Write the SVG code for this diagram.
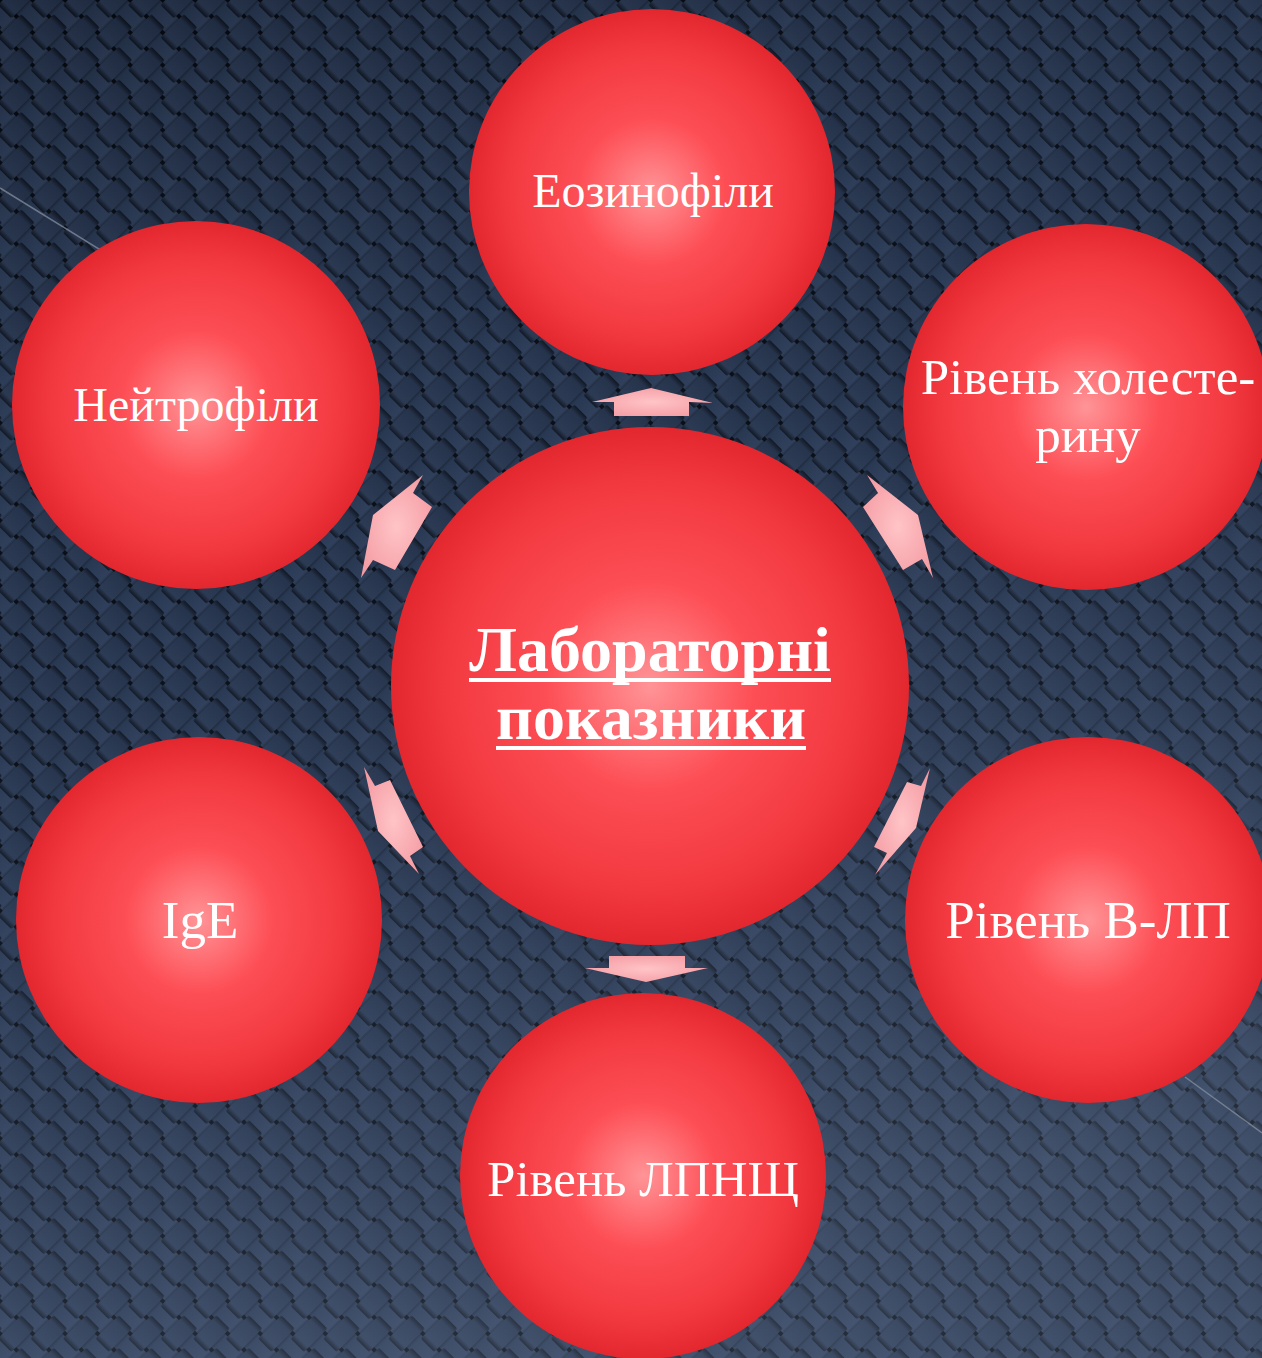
<svg xmlns="http://www.w3.org/2000/svg" width="1262" height="1358" viewBox="0 0 1262 1358">
<style>
.t{font-family:"Liberation Serif","Times New Roman",serif;fill:#ffffff;text-anchor:middle}
.tb{font-family:"Liberation Serif","Times New Roman",serif;fill:#ffffff;text-anchor:middle;font-size:64px;font-weight:bold}
.arr{fill:url(#ag)}
.ul{fill:#ffffff}
</style>
<defs>
<linearGradient id="sh" x1="0" y1="0" x2="1" y2="0">
<stop offset="0" stop-color="#0c121d"/><stop offset="0.18" stop-color="#25344d"/><stop offset="0.82" stop-color="#2d3c57"/><stop offset="1" stop-color="#0c121d"/>
</linearGradient>
<linearGradient id="sv" x1="0" y1="0" x2="0" y2="1">
<stop offset="0" stop-color="#0c121d"/><stop offset="0.18" stop-color="#222f47"/><stop offset="0.82" stop-color="#293750"/><stop offset="1" stop-color="#0c121d"/>
</linearGradient>
<pattern id="weave" patternUnits="userSpaceOnUse" width="46" height="46" patternTransform="rotate(45)">
<rect x="0" y="0" width="46" height="46" fill="#060a10"/>
<rect x="-5" y="2" width="33" height="19" rx="2" fill="url(#sh)"/>
<rect x="41" y="2" width="33" height="19" rx="2" fill="url(#sh)"/>
<rect x="18" y="25" width="33" height="19" rx="2" fill="url(#sh)"/>
<rect x="-28" y="25" width="33" height="19" rx="2" fill="url(#sh)"/>
<rect x="25" y="-5" width="19" height="33" rx="2" fill="url(#sv)"/>
<rect x="25" y="41" width="19" height="33" rx="2" fill="url(#sv)"/>
<rect x="2" y="18" width="19" height="33" rx="2" fill="url(#sv)"/>
<rect x="2" y="-28" width="19" height="33" rx="2" fill="url(#sv)"/>
</pattern>
<linearGradient id="ov" x1="0" y1="0" x2="0.3" y2="1">
<stop offset="0" stop-color="#000000" stop-opacity="0.14"/>
<stop offset="0.45" stop-color="#6a82a8" stop-opacity="0.05"/>
<stop offset="1" stop-color="#a5b9d8" stop-opacity="0.2"/>
</linearGradient>
<radialGradient id="cg" cx="0.5" cy="0.5" r="0.5" fx="0.5" fy="0.5">
<stop offset="0" stop-color="#ff9497"/>
<stop offset="0.4" stop-color="#fd4e55"/>
<stop offset="0.8" stop-color="#f2383f"/>
<stop offset="1" stop-color="#e3272e"/>
</radialGradient>
<radialGradient id="ag" cx="0.5" cy="0.5" r="0.6">
<stop offset="0" stop-color="#ffc4c7"/>
<stop offset="1" stop-color="#f49ca3"/>
</radialGradient>
</defs>
<g id="background">
<rect x="0" y="0" width="1262" height="1358" fill="url(#weave)"/>
<rect x="0" y="0" width="1262" height="1358" fill="url(#ov)"/>
<line x1="0" y1="188" x2="120" y2="262" stroke="#8a94a4" stroke-width="1.5" stroke-opacity="0.7"/>
<line x1="1185" y1="1077" x2="1262" y2="1133" stroke="#8a94a4" stroke-width="1.5" stroke-opacity="0.7"/>
</g>
<g id="connectors">
<polygon class="arr" points="651,388 713,403 689,402 689,416 614,416 614,402 592,402"/>
<polygon class="arr" points="609,956 685,956 685,968 708,968 646,982 585,968 609,968"/>
<polygon class="arr" points="373,515 423,475 413,493 432,507 395,570 373,560 361,578"/>
<polygon class="arr" points="918,515 933,578 922,559 903,570 863,507 878,493 867,475"/>
<polygon class="arr" points="364,767 375,786 390,780 423,847 410,856 419,874 378,831"/>
<polygon class="arr" points="930,768 921,786 907,782 874,847 887,853 875,875 916,828"/>
</g>
<g id="node-eozynofily">
<circle cx="652" cy="192" r="183" fill="url(#cg)"/>
<text class="t" x="653" y="207" font-size="48">Еозинофіли</text>
</g>
<g id="node-neitrofily">
<circle cx="196" cy="405" r="184" fill="url(#cg)"/>
<text class="t" x="196" y="421" font-size="48">Нейтрофіли</text>
</g>
<g id="node-kholesteryn">
<circle cx="1086" cy="407" r="183" fill="url(#cg)"/>
<text class="t" x="1088" y="394" font-size="51">Рівень холесте-</text>
<text class="t" x="1088" y="452" font-size="51">рину</text>
</g>
<g id="node-center">
<circle cx="650" cy="686" r="259" fill="url(#cg)"/>
<text class="tb" x="650" y="671">Лабораторні</text>
<rect class="ul" x="469" y="678" width="362" height="4"/>
<text class="tb" x="651" y="739">показники</text>
<rect class="ul" x="496" y="746" width="310" height="4"/>
</g>
<g id="node-ige">
<circle cx="199" cy="920" r="183" fill="url(#cg)"/>
<text class="t" x="200" y="938" font-size="53">IgE</text>
</g>
<g id="node-vlp">
<circle cx="1088" cy="920" r="183" fill="url(#cg)"/>
<text class="t" x="1088" y="938" font-size="53">Рівень В-ЛП</text>
</g>
<g id="node-lpnshch">
<circle cx="643" cy="1176" r="183" fill="url(#cg)"/>
<text class="t" x="643" y="1196" font-size="51">Рівень ЛПНЩ</text>
</g>
</svg>
